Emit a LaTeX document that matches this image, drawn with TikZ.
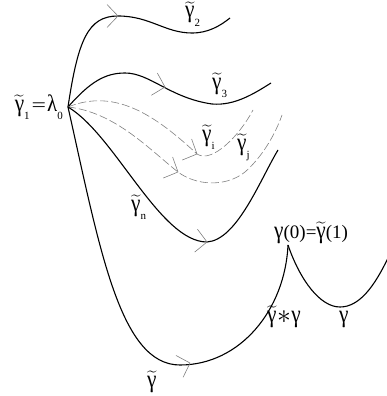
\documentclass[tikz,border=0pt]{standalone}
\usepackage{fontspec}
\setmainfont{Liberation Serif}
\usepackage{amsmath}
\usepackage{graphicx}
\newcommand\gm{\scalebox{1.12}[1.3]{γ}}
\newcommand\lm{\scalebox{1.1}[1.25]{λ}}
\newcommand\tg{$\widetilde{\mbox{\gm}}$}
\newcommand\sbs[1]{\raisebox{-0.45em}{\fontsize{11}{11}\selectfont #1}}
\begin{document}
\begin{tikzpicture}[x=1pt,y=-1pt,
  curve/.style={line width=1.1pt, black},
  dcurve/.style={line width=0.6pt, gray, dash pattern=on 8pt off 3pt},
  lbl/.style={inner sep=0pt, anchor=base west, font=\fontsize{19}{22}\selectfont},
  chev/.pic={\draw[gray,line width=0.6pt] (-11,-11.5) -- (0,0) -- (-11,11.5);}
]
\useasboundingbox (0,0) rectangle (387,396);
\coordinate (L) at (68,107);
\coordinate (C) at (288,245);
% curves
\draw[curve] (L) .. controls (78,40) and (88,16) .. (118,16)
  .. controls (150,16) and (165,33) .. (192,33)
  .. controls (208,33) and (220,26) .. (230,18);
\draw[curve] (L) .. controls (90,82) and (105,73) .. (125,73)
  .. controls (150,73) and (170,98) .. (212,104)
  .. controls (235,106) and (255,93) .. (271,83);
\draw[dcurve] (L) .. controls (115,88) and (155,115) .. (197,154)
  .. controls (212,164) and (240,135) .. (253,110);
\draw[dcurve] (L) .. controls (115,112) and (150,150) .. (178,172)
  .. controls (195,185) and (225,188) .. (245,172)
  .. controls (262,157) and (275,135) .. (282,115);
\draw[curve] (L) .. controls (115,135) and (160,242) .. (207,242)
  .. controls (237,240) and (260,180) .. (278,150);
\draw[curve] (L) .. controls (100,250) and (120,365) .. (180,365)
  .. controls (240,365) and (285,310) .. (C);
\draw[curve] (C) .. controls (300,280) and (320,307) .. (340,307)
  .. controls (360,307) and (375,285) .. (388,258);
% arrows
\pic[rotate=0] at (118,16) {chev};
\pic[rotate=-15] at (165,87) {chev};
\pic[rotate=-24] at (197,154) {chev};
\pic[rotate=-24] at (178,172) {chev};
\pic[rotate=-7] at (207,242) {chev};
\pic[rotate=18] at (190,363) {chev};
% labels
\node[lbl, anchor=base east] (l1) at (63,111) {\tg\sbs{1}\kern2pt\scalebox{1.35}[1]{=}\kern1pt\lm\sbs{0}};
\node[lbl] (l2) at (185,18) {\tg\sbs{2}};
\node[lbl] (l3) at (212,89) {\tg\sbs{3}};
\node[lbl] (li) at (202,141) {\tg\sbs{i}};
\node[lbl] (lj) at (237,150) {\tg\sbs{j}};
\node[lbl] (ln) at (131,211) {\tg\sbs{n}};
\node[lbl] (lg) at (147,387) {\tg};
\node[lbl] (lc) at (274,238) {\gm(0)=\tg(1)};
\node[lbl] (ls) at (267,322) {\tg\kern0.5pt\raisebox{-1pt}{\scalebox{1.6}{$\ast$}}\kern0.5pt\gm};
\node[lbl] (lgam) at (339,322) {\gm};
\end{tikzpicture}
\end{document}
